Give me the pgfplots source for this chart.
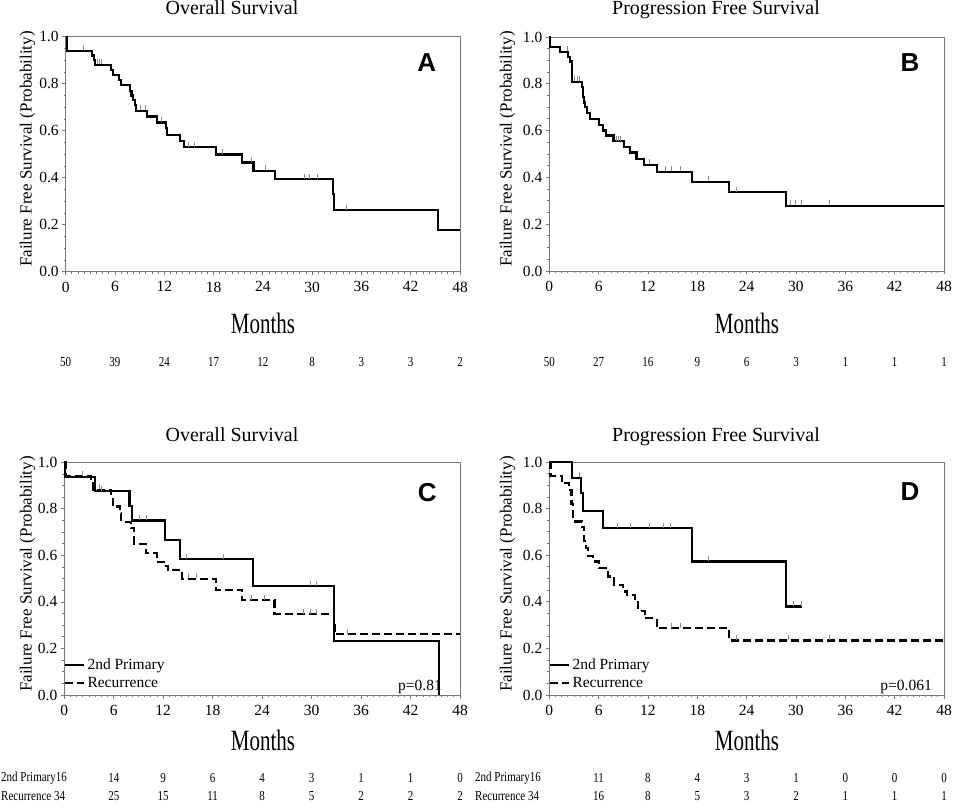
\documentclass[border=0pt]{standalone}
\usepackage{pgfplots}
\pgfplotsset{compat=1.18}
\usepackage{fontspec}
\setmainfont{Liberation Serif}
\newfontfamily\sansb{Liberation Sans}
\definecolor{axgray}{RGB}{120,120,120}
\definecolor{cgray}{RGB}{140,140,140}
\newcommand\fs[1]{\fontsize{#1}{#1}\selectfont}
\pgfplotsset{
  kms/.style={black, line width=2.2pt, const plot, mark=none},
  kmd/.style={black, line width=2.2pt, const plot, mark=none, dash pattern=on 8pt off 4pt},
  cens/.style={only marks, mark=|, mark size=2.5pt, cgray, mark options={solid, line width=0.8pt, yshift=3pt}, forget plot},
}
\pgfplotsset{km/.style={
  scale only axis, anchor=south west,
  xmin=0, xmax=48, ymin=0, ymax=1,
  xtick={0,6,12,18,24,30,36,42,48},
  ytick={0,0.2,0.4,0.6,0.8,1},
  minor x tick num=7, minor y tick num=3,
  tick align=outside, tick pos=left,
  major tick length=3.5pt, minor tick length=2pt,
  axis line style={axgray, line width=0.8pt},
  tick style={axgray, line width=0.8pt},
  tick label style={font=\fs{15.5}, black},
  xticklabel style={yshift=-3pt},
  /pgf/number format/assume math mode=true,
  yticklabel style={/pgf/number format/.cd, fixed, fixed zerofill, precision=1},
  clip=false,
}, kmleg/.style={
  legend entries={2nd Primary, Recurrence},
  legend image code/.code={\draw[##1] (0pt,0pt) -- (19pt,0pt);},
  legend style={at={(rel axis cs:0,0.017)}, anchor=south west, draw=none, fill=none,
    font=\fs{15.5}, inner sep=0pt, outer sep=0pt, row sep=2pt,
    cells={anchor=west},
    /tikz/every even column/.append style={column sep=4pt}},
}}
\begin{document}
\begin{tikzpicture}
\path[use as bounding box] (0,0) rectangle (953pt,809pt);

% ---------- A ----------
\begin{axis}[km, at={(65.7pt,537.3pt)}, width=394.3pt, height=235pt]
\addplot[kms] coordinates {(0,1)(0.2,0.94)(3.17,0.92)(3.4,0.90)(3.6,0.88)(5.5,0.858)(5.8,0.837)(6.5,0.816)(6.7,0.794)(7.83,0.77)(8.0,0.75)(8.24,0.73)(8.4,0.71)(8.56,0.684)(9.86,0.66)(11.08,0.635)(12.18,0.61)(12.38,0.582)(13.92,0.557)(14.4,0.53)(18.3,0.499)(21.5,0.465)(22.85,0.43)(25.5,0.393)(32.5,0.33)(32.65,0.262)(45.3,0.177)(48,0.177)};
\addplot[cens] coordinates {(2.15,0.94)(3.8,0.88)(4.1,0.88)(4.35,0.88)(9.05,0.684)(9.7,0.684)(11.6,0.635)(14.9,0.53)(15.7,0.53)(19.1,0.499)(22.6,0.465)(24.35,0.43)(29.0,0.393)(29.7,0.393)(30.6,0.393)(34.2,0.262)};
\node[font=\sansb\bfseries\fs{26}] at (rel axis cs:0.916,0.888) {A};
\end{axis}

% ---------- B ----------
\begin{axis}[km, at={(549.3pt,538pt)}, width=394.7pt, height=234pt]
\addplot[kms] coordinates {(0,1)(0.1,0.957)(1.3,0.936)(2.31,0.915)(2.5,0.895)(2.8,0.809)(3.93,0.787)(4.05,0.745)(4.2,0.72)(4.34,0.70)(4.6,0.675)(4.95,0.65)(6.08,0.624)(6.49,0.60)(6.9,0.579)(7.8,0.555)(9.08,0.53)(9.8,0.506)(10.6,0.479)(11.5,0.454)(13.05,0.424)(17.35,0.381)(21.9,0.336)(28.8,0.279)(48,0.279)};
\addplot[cens] coordinates {(2.2,0.936)(3.0,0.809)(3.4,0.809)(3.7,0.809)(8.2,0.555)(8.4,0.555)(8.6,0.555)(12.2,0.454)(14.1,0.424)(14.9,0.424)(15.9,0.424)(19.3,0.381)(22.7,0.336)(29.3,0.279)(29.9,0.279)(30.7,0.279)(34.1,0.279)};
\node[font=\sansb\bfseries\fs{26}] at (rel axis cs:0.914,0.889) {B};
\end{axis}

% ---------- C ----------
\begin{axis}[km, kmleg, at={(64.3pt,114pt)}, width=395.7pt, height=232.7pt]
\node[font=\fs{15.5}, anchor=base east, inner sep=0pt] at (rel axis cs:0.9545,0.021) {p=0.81};
\addplot[kms] coordinates {(0,1)(0.1,0.9375)(3.77,0.875)(7.9,0.8125)(8.2,0.75)(12.2,0.667)(14.0,0.583)(22.9,0.467)(32.7,0.233)(45.45,0.0)};
\addplot[kmd] coordinates {(0,1)(0.2,0.941)(3.25,0.912)(3.45,0.882)(5.7,0.853)(5.9,0.81)(6.8,0.78)(6.9,0.745)(8.1,0.716)(8.5,0.649)(9.9,0.609)(11.2,0.573)(12.3,0.555)(12.6,0.536)(14.3,0.499)(18.4,0.451)(21.6,0.407)(25.5,0.348)(32.7,0.30)(32.8,0.261)(48,0.261)};
\addplot[cens] coordinates {(2.2,0.9375)(4.5,0.875)(9.1,0.75)(9.9,0.75)(14.8,0.583)(19.3,0.583)(29.8,0.467)(30.6,0.467)};
\addplot[cens] coordinates {(2.2,0.941)(4.3,0.882)(15.0,0.499)(16.0,0.499)(22.7,0.407)(24.3,0.407)(29.0,0.348)(29.8,0.348)(30.6,0.348)(34.3,0.261)};
\node[font=\sansb\bfseries\fs{26}] at (rel axis cs:0.917,0.872) {C};
\end{axis}

% ---------- D ----------
\begin{axis}[km, kmleg, at={(549.3pt,114pt)}, width=394.7pt, height=233pt]
\node[font=\fs{15.5}, anchor=base east, inner sep=0pt] at (rel axis cs:0.9696,0.021) {p=0.061};
\addplot[kms] coordinates {(0,1)(2.8,0.933)(3.85,0.867)(4.05,0.788)(6.49,0.716)(17.35,0.573)(28.8,0.38)(30.7,0.38)};
\addplot[kmd] coordinates {(0,1)(0.15,0.941)(1.5,0.91)(2.43,0.88)(2.7,0.82)(2.9,0.745)(3.93,0.72)(4.26,0.66)(4.5,0.63)(4.7,0.595)(5.35,0.573)(6.08,0.544)(7.17,0.509)(7.9,0.473)(9.0,0.444)(9.4,0.43)(10.4,0.398)(10.8,0.362)(11.6,0.33)(13.05,0.287)(21.9,0.234)(48,0.234)};
\addplot[cens] coordinates {(3.7,0.933)(8.3,0.716)(9.9,0.716)(12.2,0.716)(13.9,0.716)(14.7,0.716)(19.3,0.573)(29.7,0.38)(30.6,0.38)};
\addplot[cens] coordinates {(14.9,0.287)(15.9,0.287)(22.8,0.234)(29.1,0.234)(34.1,0.234)};
\node[font=\sansb\bfseries\fs{26}] at (rel axis cs:0.914,0.872) {D};
\end{axis}

% ---------- titles and labels ----------
\node[font=\fs{20}, anchor=base] at (232pt,794pt) {Overall Survival};
\node[font=\fs{20}, anchor=base] at (716pt,794pt) {Progression Free Survival};
\node[font=\fs{20}, anchor=base] at (232pt,367pt) {Overall Survival};
\node[font=\fs{20}, anchor=base] at (716pt,367pt) {Progression Free Survival};

\node[font=\fs{17}, rotate=90] at (27.5pt,660pt) {Failure Free Survival (Probability)};
\node[font=\fs{17}, rotate=90] at (507.5pt,660pt) {Failure Free Survival (Probability)};
\node[font=\fs{17}, rotate=90] at (27.5pt,235pt) {Failure Free Survival (Probability)};
\node[font=\fs{17}, rotate=90] at (507.5pt,235pt) {Failure Free Survival (Probability)};

\node[font=\fs{21}, yscale=1.4] at (263pt,486pt) {Months};
\node[font=\fs{21}, yscale=1.4] at (747pt,486pt) {Months};
\node[font=\fs{21}, yscale=1.4] at (263pt,69pt) {Months};
\node[font=\fs{21}, yscale=1.4] at (747pt,69pt) {Months};

% ---------- numbers at risk ----------
\foreach \t/\n in {0/50,6/39,12/24,18/17,24/12,30/8,36/3,42/3,48/2}
  \node[font=\fs{11}, yscale=1.25] at ({65.7pt+\t*8.2146pt},447pt) {\n};
\foreach \t/\n in {0/50,6/27,12/16,18/9,24/6,30/3,36/1,42/1,48/1}
  \node[font=\fs{11}, yscale=1.25] at ({549.3pt+\t*8.223pt},447pt) {\n};

\node[font=\fs{11}, yscale=1.25, anchor=west, inner sep=0pt] at (1pt,31pt) {2nd Primary16};
\node[font=\fs{11}, yscale=1.25, anchor=west, inner sep=0pt] at (1pt,13pt) {Recurrence 34};
\foreach \t/\n/\m in {6/14/25,12/9/15,18/6/11,24/4/8,30/3/5,36/1/2,42/1/2,48/0/2}{
  \node[font=\fs{11}, yscale=1.25] at ({64.3pt+\t*8.244pt},31pt) {\n};
  \node[font=\fs{11}, yscale=1.25] at ({64.3pt+\t*8.244pt},13pt) {\m};
}
\node[font=\fs{11}, yscale=1.25, anchor=west, inner sep=0pt] at (475pt,31pt) {2nd Primary16};
\node[font=\fs{11}, yscale=1.25, anchor=west, inner sep=0pt] at (475pt,13pt) {Recurrence 34};
\foreach \t/\n/\m in {6/11/16,12/8/8,18/4/5,24/3/3,30/1/2,36/0/1,42/0/1,48/0/1}{
  \node[font=\fs{11}, yscale=1.25] at ({549.3pt+\t*8.223pt},31pt) {\n};
  \node[font=\fs{11}, yscale=1.25] at ({549.3pt+\t*8.223pt},13pt) {\m};
}
\end{tikzpicture}
\end{document}
